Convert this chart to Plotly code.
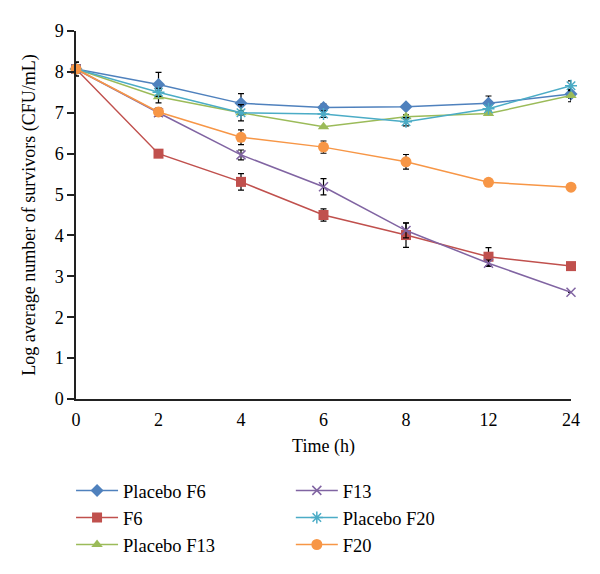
import plotly.graph_objects as go

time_labels = ["0", "2", "4", "6", "8", "12", "24"]
x_idx = list(range(len(time_labels)))

series_names = ["Placebo F6", "F6", "Placebo F13", "F13", "Placebo F20", "F20"]

placebo_f6 = [8.07, 7.69, 7.23, 7.13, 7.15, 7.23, 7.46]
f6 = [8.07, 6.00, 5.31, 4.50, 4.01, 3.48, 3.25]
placebo_f13 = [8.07, 7.39, 7.00, 6.66, 6.90, 6.98, 7.42]
f13 = [8.07, 7.00, 5.97, 5.19, 4.12, 3.32, 2.61]
placebo_f20 = [8.07, 7.50, 7.00, 6.97, 6.78, 7.10, 7.66]
f20 = [8.07, 7.02, 6.40, 6.16, 5.80, 5.30, 5.18]

err_placebo_f6 = [0.17, 0.30, 0.24, 0.08, 0.0, 0.18, 0.10]
err_f6 = [0.17, 0.0, 0.20, 0.15, 0.30, 0.22, 0.0]
err_placebo_f13 = [0.0, 0.15, 0.20, 0.0, 0.05, 0.0, 0.15]
err_f13 = [0.0, 0.0, 0.12, 0.20, 0.18, 0.08, 0.0]
err_placebo_f20 = [0.0, 0.10, 0.05, 0.08, 0.10, 0.0, 0.12]
err_f20 = [0.0, 0.10, 0.18, 0.15, 0.18, 0.0, 0.0]

values = [placebo_f6, f6, placebo_f13, f13, placebo_f20, f20]
errors = [err_placebo_f6, err_f6, err_placebo_f13, err_f13, err_placebo_f20, err_f20]
colors = ["#4F81BD", "#C0504D", "#9BBB59", "#8064A2", "#4BACC6", "#F79646"]
symbols = ["diamond", "square", "triangle-up", "x-thin", "asterisk", "circle"]
sizes = [10, 10, 10, 9, 10, 11]
legends = ["legend", "legend", "legend", "legend2", "legend2", "legend2"]

FONT = "Liberation Serif"

fig = go.Figure()
for name, vals, errs, col, sym, sz, lg in zip(series_names, values, errors, colors, symbols, sizes, legends):
    open_sym = sym in ("x-thin", "asterisk")
    fig.add_trace(go.Scatter(
        x=x_idx, y=vals, name=name, mode="lines+markers",
        line=dict(color=col, width=1.5),
        marker=dict(symbol=sym, size=sz, color=col,
                    line=dict(color=col, width=1.5 if open_sym else 0)),
        error_y=dict(type="data", array=errs, visible=True, color="black",
                     thickness=1.2, width=3),
        cliponaxis=False, legend=lg,
    ))

fig.update_layout(
    width=600, height=574,
    margin=dict(l=68, r=37, t=23, b=183),
    plot_bgcolor="white", paper_bgcolor="white",
    font=dict(family=FONT, size=18, color="black"),
    showlegend=True,
    legend=dict(x=-0.010, y=-0.198, xanchor="left", yanchor="top",
                font=dict(family=FONT, size=18.5), tracegroupgap=0,
                itemwidth=42, bgcolor="rgba(0,0,0,0)"),
    legend2=dict(x=0.434, y=-0.198, xanchor="left", yanchor="top",
                 font=dict(family=FONT, size=18.5), tracegroupgap=0,
                 itemwidth=42, bgcolor="rgba(0,0,0,0)"),
)

fig.update_xaxes(
    range=[0, 6], tickvals=x_idx, ticktext=time_labels,
    showline=True, linecolor="#222", linewidth=1.5,
    showgrid=False, zeroline=False, ticks="",
    ticklabelstandoff=4,
    tickfont=dict(family=FONT, size=18),
    title=dict(text="Time (h)", font=dict(family=FONT, size=18), standoff=10),
)
fig.update_yaxes(
    range=[0, 9], dtick=1,
    showline=True, linecolor="#222", linewidth=1.5,
    showgrid=False, zeroline=False, ticks="outside", ticklen=7,
    tickcolor="#222", tickwidth=1.5,
    tickfont=dict(family=FONT, size=18),
    title=dict(text="Log average number of survivors (CFU/mL)",
               font=dict(family=FONT, size=18), standoff=14),
)

fig.write_html("out.html")
